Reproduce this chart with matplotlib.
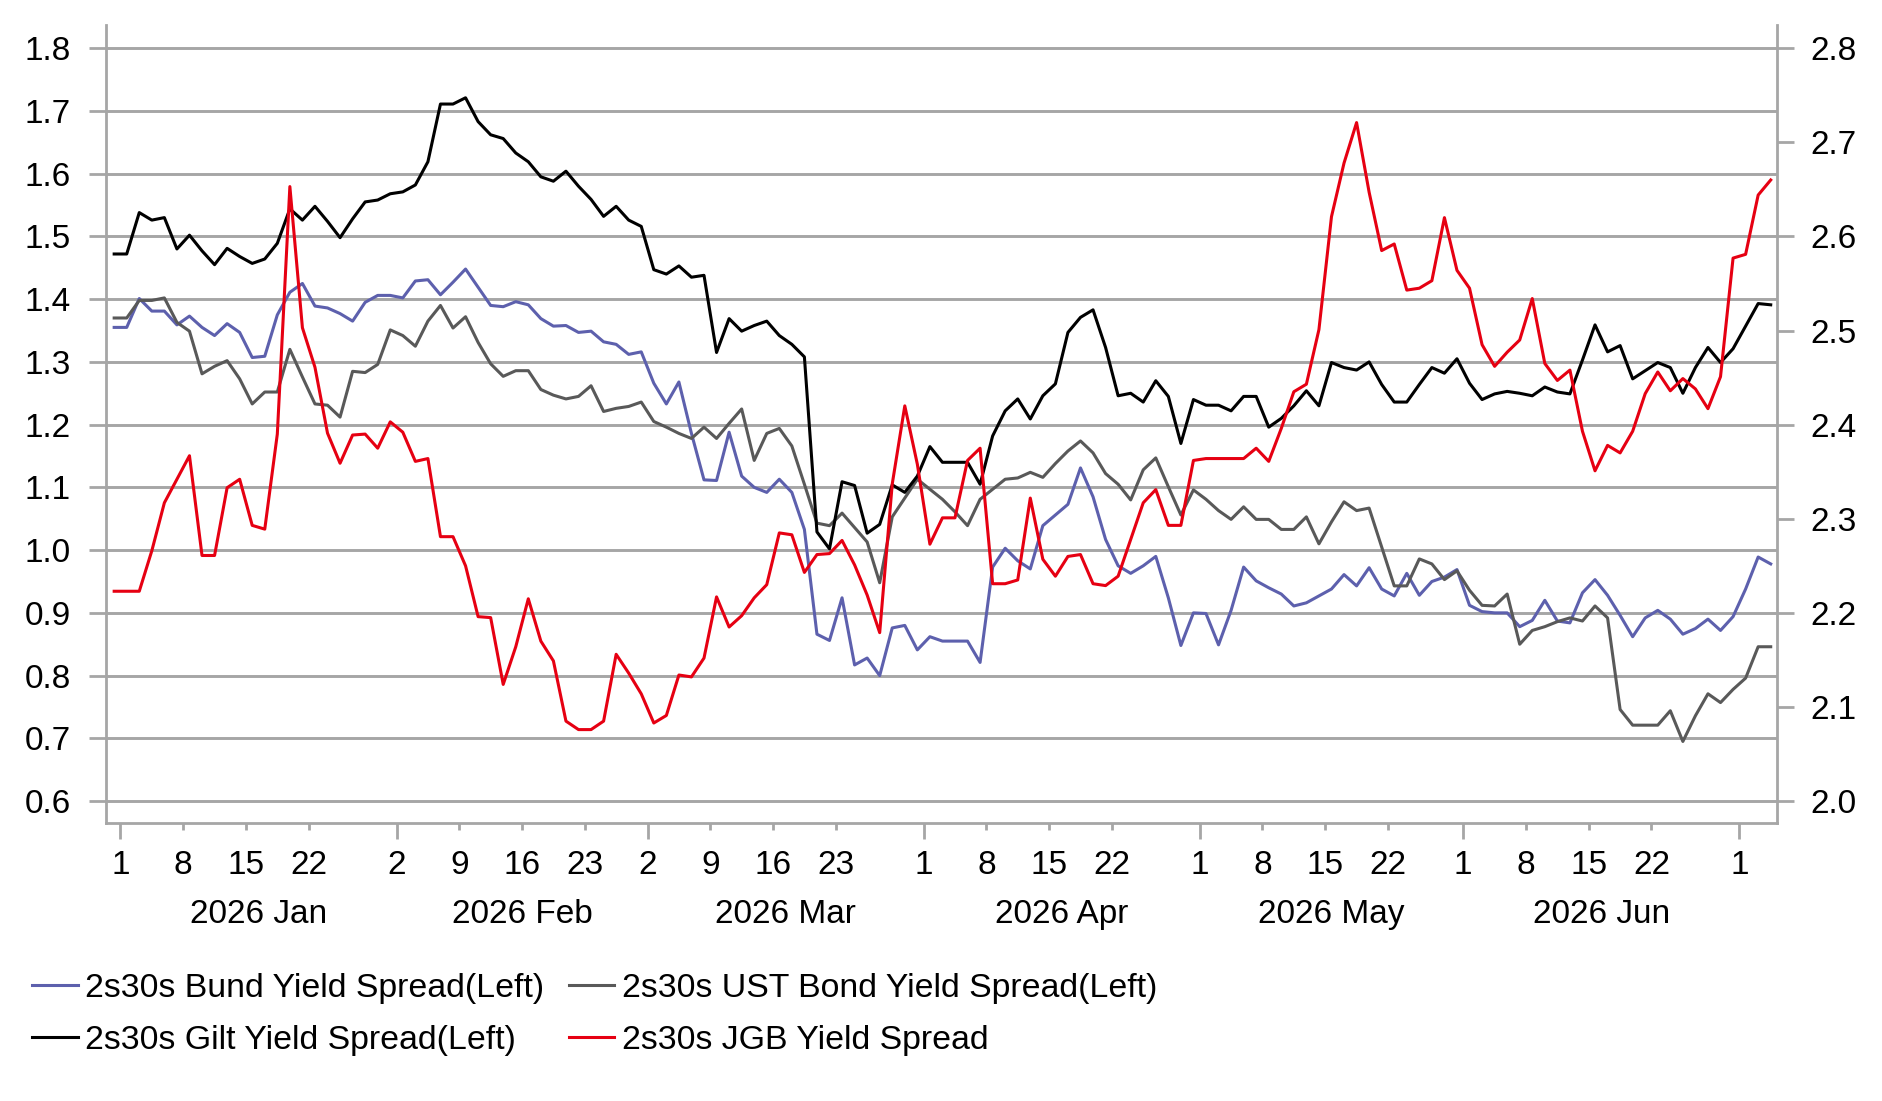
import numpy as np
import pandas as pd
import matplotlib
matplotlib.use('Agg')
import matplotlib.pyplot as plt

plt.rcParams['font.family'] = ['Liberation Sans', 'DejaVu Sans']

# business days, 2025-12-31 .. 2026-07-03
dates = pd.bdate_range('2025-12-31', '2026-07-03')

bund = [1.355, 1.355, 1.401, 1.381, 1.381, 1.359, 1.373, 1.355, 1.342, 1.361, 1.347, 1.307, 1.309, 1.375, 1.411, 1.425, 1.389, 1.386, 1.377, 1.365, 1.395, 1.406, 1.406,
        1.402, 1.429, 1.431, 1.407, 1.427, 1.448, 1.419, 1.390, 1.388, 1.396, 1.391, 1.369, 1.357, 1.358, 1.347, 1.349, 1.332, 1.328, 1.312, 1.316, 1.266, 1.233, 1.268,
        1.186, 1.112, 1.111, 1.188, 1.118, 1.100, 1.092, 1.113, 1.092, 1.033, 0.866, 0.856, 0.924, 0.817, 0.828, 0.800, 0.876, 0.880, 0.841, 0.862, 0.855, 0.855,
        0.855, 0.821, 0.973, 1.003, 0.983, 0.970, 1.039, 1.056, 1.073, 1.131, 1.085, 1.017, 0.975, 0.963, 0.975, 0.990, 0.924, 0.848, 0.900, 0.899, 0.849,
        0.904, 0.973, 0.951, 0.940, 0.930, 0.911, 0.916, 0.927, 0.938, 0.961, 0.943, 0.972, 0.938, 0.927, 0.963, 0.928, 0.950, 0.957, 0.969, 0.912, 0.902, 0.900,
        0.900, 0.878, 0.888, 0.920, 0.887, 0.884, 0.932, 0.953, 0.928, 0.896, 0.862, 0.892, 0.904, 0.890, 0.866, 0.875, 0.890, 0.872, 0.894, 0.938, 0.989, 0.978]

ust = [1.370, 1.370, 1.398, 1.398, 1.402, 1.363, 1.349, 1.281, 1.293, 1.302, 1.273, 1.233, 1.252, 1.252, 1.320, 1.276, 1.233, 1.231, 1.212, 1.285, 1.283, 1.296, 1.351,
       1.342, 1.325, 1.365, 1.390, 1.354, 1.372, 1.331, 1.297, 1.277, 1.286, 1.286, 1.256, 1.247, 1.241, 1.245, 1.262, 1.221, 1.226, 1.229, 1.236, 1.205, 1.196, 1.186,
       1.178, 1.196, 1.178, 1.202, 1.225, 1.143, 1.186, 1.194, 1.166, 1.105, 1.043, 1.039, 1.059, 1.036, 1.013, 0.948, 1.053, 1.083, 1.113, 1.097, 1.081, 1.061,
       1.039, 1.081, 1.097, 1.113, 1.115, 1.124, 1.116, 1.138, 1.158, 1.174, 1.155, 1.122, 1.105, 1.080, 1.128, 1.147, 1.101, 1.056, 1.096, 1.081, 1.063,
       1.049, 1.069, 1.049, 1.049, 1.033, 1.033, 1.053, 1.010, 1.045, 1.077, 1.063, 1.067, 1.005, 0.943, 0.943, 0.986, 0.978, 0.953, 0.967, 0.936, 0.912, 0.911,
       0.930, 0.850, 0.872, 0.878, 0.886, 0.892, 0.887, 0.911, 0.892, 0.746, 0.721, 0.721, 0.721, 0.744, 0.695, 0.736, 0.771, 0.757, 0.778, 0.796, 0.846, 0.846]

gilt = [1.472, 1.472, 1.538, 1.526, 1.530, 1.480, 1.502, 1.477, 1.455, 1.481, 1.468, 1.457, 1.464, 1.489, 1.544, 1.526, 1.548, 1.524, 1.498, 1.528, 1.555, 1.558, 1.568,
        1.571, 1.582, 1.619, 1.711, 1.711, 1.721, 1.683, 1.662, 1.656, 1.633, 1.619, 1.595, 1.588, 1.604, 1.580, 1.559, 1.532, 1.548, 1.526, 1.516, 1.447, 1.440, 1.453,
        1.435, 1.438, 1.315, 1.369, 1.349, 1.358, 1.365, 1.342, 1.328, 1.308, 1.029, 1.002, 1.109, 1.103, 1.027, 1.041, 1.104, 1.092, 1.118, 1.165, 1.140, 1.140,
        1.140, 1.105, 1.182, 1.222, 1.241, 1.209, 1.246, 1.265, 1.347, 1.371, 1.383, 1.323, 1.246, 1.250, 1.236, 1.270, 1.245, 1.170, 1.240, 1.231, 1.231,
        1.222, 1.245, 1.245, 1.196, 1.210, 1.230, 1.254, 1.230, 1.299, 1.291, 1.287, 1.300, 1.264, 1.236, 1.236, 1.264, 1.291, 1.282, 1.305, 1.266, 1.240, 1.249,
        1.253, 1.250, 1.246, 1.260, 1.252, 1.249, 1.303, 1.359, 1.316, 1.326, 1.273, 1.286, 1.299, 1.291, 1.250, 1.291, 1.323, 1.299, 1.321, 1.357, 1.393, 1.391]

jgb = [2.223, 2.223, 2.223, 2.266, 2.317, 2.342, 2.367, 2.261, 2.261, 2.333, 2.342, 2.293, 2.289, 2.390, 2.653, 2.503, 2.461, 2.391, 2.359, 2.389, 2.390, 2.375, 2.403,
       2.392, 2.361, 2.364, 2.281, 2.281, 2.250, 2.196, 2.195, 2.124, 2.164, 2.215, 2.170, 2.149, 2.085, 2.076, 2.076, 2.085, 2.156, 2.136, 2.114, 2.083, 2.091, 2.134,
       2.132, 2.152, 2.217, 2.185, 2.197, 2.216, 2.230, 2.285, 2.283, 2.243, 2.262, 2.263, 2.277, 2.251, 2.219, 2.179, 2.337, 2.420, 2.358, 2.273, 2.301, 2.301,
       2.362, 2.375, 2.231, 2.231, 2.235, 2.322, 2.257, 2.239, 2.260, 2.262, 2.231, 2.229, 2.239, 2.278, 2.317, 2.331, 2.293, 2.293, 2.362, 2.364, 2.364,
       2.364, 2.364, 2.375, 2.361, 2.396, 2.435, 2.443, 2.501, 2.621, 2.678, 2.721, 2.647, 2.585, 2.592, 2.543, 2.545, 2.553, 2.620, 2.564, 2.545, 2.485, 2.462,
       2.477, 2.490, 2.534, 2.465, 2.447, 2.458, 2.393, 2.351, 2.378, 2.370, 2.393, 2.433, 2.456, 2.436, 2.449, 2.438, 2.417, 2.451, 2.577, 2.581, 2.644, 2.660]

month_starts = ['2026-01-01', '2026-02-02', '2026-03-02', '2026-04-01', '2026-05-01', '2026-06-01', '2026-07-01']
week_days = ['2026-01-08', '2026-01-15', '2026-01-22',
             '2026-02-09', '2026-02-16', '2026-02-23',
             '2026-03-09', '2026-03-16', '2026-03-23',
             '2026-04-08', '2026-04-15', '2026-04-22',
             '2026-05-08', '2026-05-15', '2026-05-22',
             '2026-06-08', '2026-06-15', '2026-06-22']
month_names = ['2026 Jan', '2026 Feb', '2026 Mar', '2026 Apr', '2026 May', '2026 Jun']

labels = ['2s30s Bund Yield Spread(Left)', '2s30s UST Bond Yield Spread(Left)',
          '2s30s Gilt Yield Spread(Left)', '2s30s JGB Yield Spread']

x = np.arange(len(dates))
grey = '#a6a6a6'
fs = 24


def tick_pos(d):
    # ticks sit at the left edge of the day
    return dates.get_loc(pd.Timestamp(d)) - 0.5


fig = plt.figure(figsize=(18.83, 11.01), dpi=100)
ax = fig.add_axes([0.0563, 0.2528, 0.8874, 0.7245])
ax2 = ax.twinx()

lw = 2.2
l1, = ax.plot(x, bund, color='#5d60ad', lw=lw)
l2, = ax.plot(x, ust, color='#595959', lw=lw)
l3, = ax.plot(x, gilt, color='#000000', lw=lw)
l4, = ax2.plot(x, jgb, color='#e60012', lw=lw)

ax.set_xlim(-0.65, 132.5)
ax.set_ylim(0.5656, 1.837)
ax2.set_ylim(1.9771, 2.8247)
ax.set_yticks(np.arange(0.6, 1.81, 0.1))
ax.set_yticklabels([f'{v:.1f}' for v in np.arange(0.6, 1.81, 0.1)])
ax2.set_yticks(np.arange(2.0, 2.81, 0.1))
ax2.set_yticklabels([f'{v:.1f}' for v in np.arange(2.0, 2.81, 0.1)])
ax.grid(axis='y', color=grey, lw=2.1)
ax.set_axisbelow(True)

ax.set_xticks([tick_pos(d) for d in month_starts])
ax.set_xticklabels([str(pd.Timestamp(d).day) for d in month_starts])
ax.set_xticks([tick_pos(d) for d in week_days], minor=True)
ax.set_xticklabels([str(pd.Timestamp(d).day) for d in week_days], minor=True)

ax.tick_params(axis='y', length=12.2, width=2, color=grey, pad=13, labelsize=fs)
ax2.tick_params(axis='y', length=12.2, width=2, color=grey, pad=12, labelsize=fs)
ax.tick_params(axis='x', which='major', length=11.8, width=2, color=grey, pad=8, labelsize=fs)
ax.tick_params(axis='x', which='minor', length=5, width=2, color=grey, pad=14.8, labelsize=fs)

for a in (ax, ax2):
    for s in a.spines.values():
        s.set_color(grey)
        s.set_linewidth(2)
    a.spines['top'].set_visible(False)
ax.spines['right'].set_visible(False)
ax2.spines['left'].set_visible(False)
ax2.spines['bottom'].set_visible(False)

for i, name in enumerate(month_names):
    mid = (tick_pos(month_starts[i]) + tick_pos(month_starts[i + 1])) / 2
    ax.annotate(name, xy=(mid, 0), xycoords=('data', 'axes fraction'),
                xytext=(0, -55), textcoords='offset points',
                ha='center', va='top', fontsize=fs)

fig.legend([l1, l3, l2, l4], [labels[0], labels[2], labels[1], labels[3]],
           loc='upper left', bbox_to_anchor=(0.017, 0.116), ncol=2,
           frameon=False, fontsize=24.4, handlelength=1.35, handletextpad=0.22,
           columnspacing=0.72, labelspacing=0.62, borderpad=0, borderaxespad=0)

fig.savefig('out.png', dpi=100)
